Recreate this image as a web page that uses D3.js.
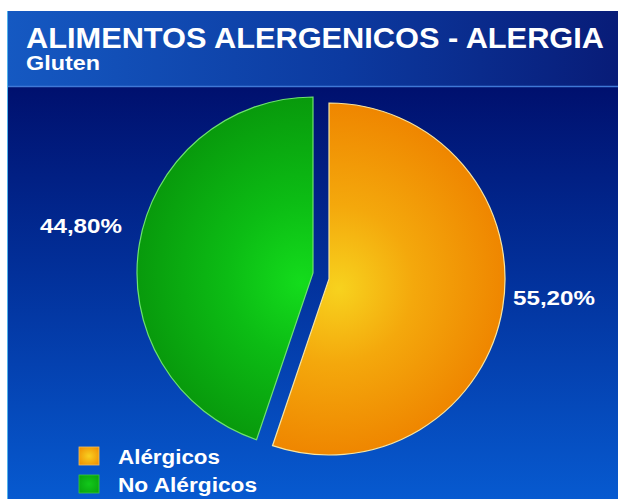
<!DOCTYPE html>
<html>
<head>
<meta charset="utf-8">
<script src="https://cdn.jsdelivr.net/npm/d3@7"></script>
<style>
  html, body { margin: 0; padding: 0; background: #ffffff; }
  svg { display: block; }
  text { font-family: "Liberation Sans", Arial, sans-serif; font-weight: bold; fill: #ffffff; }
</style>
</head>
<body>
<svg id="chart" width="618" height="499"></svg>
<script>
// Chart content
const chartTitle = "ALIMENTOS ALERGENICOS - ALERGIA";
const chartSubtitle = "Gluten";
const categories = ["Alérgicos", "No Alérgicos"];
const values = [55.2, 44.8];
const valueLabels = ["55,20%", "44,80%"];

const W = 618, H = 499;
const svg = d3.select("#chart");
const defs = svg.append("defs");

// Panel geometry
const panelX = 7, panelY = 11, headerBottom = 86;

// Header gradient (left brighter, right darker)
const hg = defs.append("linearGradient").attr("id", "headerGrad")
  .attr("x1", 0).attr("y1", 0).attr("x2", 1).attr("y2", 0);
hg.append("stop").attr("offset", "0%").attr("stop-color", "#1559c2");
hg.append("stop").attr("offset", "55%").attr("stop-color", "#0c3aa0");
hg.append("stop").attr("offset", "100%").attr("stop-color", "#081c78");

// Plot background gradient (dark navy top -> bright blue bottom)
const bg = defs.append("linearGradient").attr("id", "bodyGrad")
  .attr("x1", 0).attr("y1", 0).attr("x2", 0).attr("y2", 1);
bg.append("stop").attr("offset", "0%").attr("stop-color", "#00106e");
bg.append("stop").attr("offset", "45%").attr("stop-color", "#02309a");
bg.append("stop").attr("offset", "100%").attr("stop-color", "#075ad0");

svg.append("rect").attr("x", panelX).attr("y", headerBottom)
  .attr("width", W - panelX).attr("height", H - headerBottom)
  .attr("fill", "url(#bodyGrad)");
svg.append("rect").attr("x", panelX).attr("y", panelY)
  .attr("width", W - panelX).attr("height", headerBottom - panelY)
  .attr("fill", "url(#headerGrad)");
svg.append("line").attr("x1", panelX).attr("x2", W)
  .attr("y1", headerBottom + 0.5).attr("y2", headerBottom + 0.5)
  .attr("stroke", "#3f78d6").attr("stroke-width", 1.5);
svg.append("line").attr("x1", panelX + 0.5).attr("x2", panelX + 0.5)
  .attr("y1", panelY).attr("y2", H)
  .attr("stroke", "#52b4ec").attr("stroke-width", 1);

// Titles
svg.append("text").attr("x", 26).attr("y", 48)
  .attr("font-size", 30)
  .attr("textLength", 578).attr("lengthAdjust", "spacingAndGlyphs")
  .text(chartTitle);
svg.append("text").attr("x", 26).attr("y", 70)
  .attr("font-size", 20)
  .attr("textLength", 74).attr("lengthAdjust", "spacingAndGlyphs")
  .text(chartSubtitle);

// Pie
const cx = 321, cy = 276, R = 176;
const explode = { "Alérgicos": [8, 3], "No Alérgicos": [-8, -3] };
const fills = {
  "Alérgicos": { inner: "#f7d21e", mid: "#f4a80c", outer: "#ef8600", stroke: "#f6e4a0" },
  "No Alérgicos": { inner: "#14dc1c", mid: "#0cbc14", outer: "#089a0c", stroke: "#6ee26e" }
};

const data = categories.map((c, i) => ({ category: c, value: values[i], label: valueLabels[i] }));
const pie = d3.pie().value(d => d.value).sort(null);
const arc = d3.arc().innerRadius(0).outerRadius(R);
const arcs = pie(data);

arcs.forEach((a, i) => {
  const f = fills[a.data.category];
  const g = defs.append("radialGradient").attr("id", "slice" + i)
    .attr("gradientUnits", "userSpaceOnUse")
    .attr("cx", 0).attr("cy", 0).attr("r", R)
    .attr("fx", a.data.category === "Alérgicos" ? 10 : -12).attr("fy", 10);
  g.append("stop").attr("offset", "0%").attr("stop-color", f.inner);
  g.append("stop").attr("offset", "45%").attr("stop-color", f.mid);
  g.append("stop").attr("offset", "100%").attr("stop-color", f.outer);
});

const sliceG = svg.append("g");
sliceG.selectAll("path").data(arcs).join("path")
  .attr("transform", d => {
    const o = explode[d.data.category];
    return `translate(${cx + o[0]},${cy + o[1]})`;
  })
  .attr("d", arc)
  .attr("fill", (d, i) => `url(#slice${i})`)
  .attr("stroke", d => fills[d.data.category].stroke)
  .attr("stroke-width", 1.2);

// Value labels beside the slices
const labelPos = { "Alérgicos": [233, 305], "No Alérgicos": [-240, 233] };
svg.selectAll("text.val").data(arcs).join("text")
  .attr("class", "val")
  .attr("x", d => cx + labelPos[d.data.category][0])
  .attr("y", d => labelPos[d.data.category][1])
  .attr("text-anchor", "middle")
  .attr("font-size", 20)
  .attr("textLength", 82).attr("lengthAdjust", "spacingAndGlyphs")
  .text(d => d.data.label);

// Legend
const lg = defs.append("radialGradient").attr("id", "legOrange")
  .attr("cx", "50%").attr("cy", "50%").attr("r", "70%");
lg.append("stop").attr("offset", "0%").attr("stop-color", "#f8d020");
lg.append("stop").attr("offset", "100%").attr("stop-color", "#ef8a00");
const lgg = defs.append("radialGradient").attr("id", "legGreen")
  .attr("cx", "50%").attr("cy", "50%").attr("r", "70%");
lgg.append("stop").attr("offset", "0%").attr("stop-color", "#12c81a");
lgg.append("stop").attr("offset", "100%").attr("stop-color", "#08a00e");

const legendWidths = [102, 139];
const legend = svg.append("g");
const items = legend.selectAll("g").data(categories).join("g")
  .attr("transform", (d, i) => `translate(79,${447 + i * 28})`);
items.append("rect").attr("width", 20).attr("height", 18)
  .attr("fill", (d, i) => i === 0 ? "url(#legOrange)" : "url(#legGreen)")
  .attr("stroke", (d, i) => i === 0 ? "#f2c060" : "#3cc83c").attr("stroke-width", 0.8);
items.append("text").attr("x", 39).attr("y", 17)
  .attr("font-size", 20)
  .attr("textLength", (d, i) => legendWidths[i]).attr("lengthAdjust", "spacingAndGlyphs")
  .text(d => d);
</script>
</body>
</html>
